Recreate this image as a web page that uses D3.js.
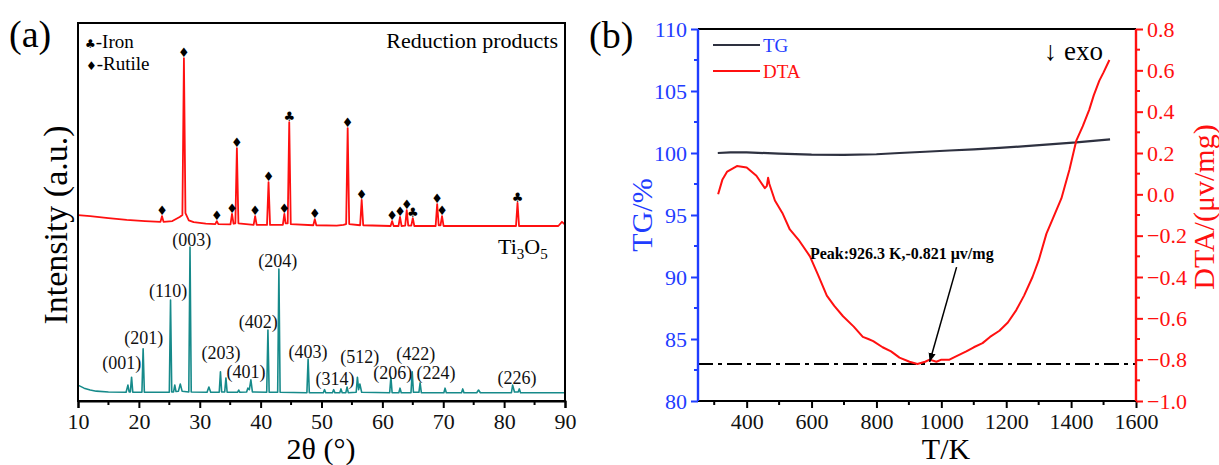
<!DOCTYPE html>
<html><head><meta charset="utf-8">
<script src="https://cdn.jsdelivr.net/npm/d3@7"></script>
<style>
body{margin:0;background:#fff}
text{font-family:"Liberation Serif","Times New Roman",serif}
</style>
</head><body>
<svg id="c" width="1219" height="465"></svg>
<script>
// ---------------- DATA ----------------
// Panel (a): XRD patterns, [2θ (deg), intensity (a.u.)]
const reductionProducts = [
 [10,492],[12,489],[15,484],[18,479],[21,476],[23.55,474],[23.8,489],[24.05,474],[25.5,476],[26.7,487],[27.15,492],[27.4,907],[27.65,497],[28.2,478],[29,473],
 [31,469],[32.55,468],[32.8,476],[33.05,468],[35.05,467],[35.3,495],[35.55,469],[35.85,470],[36.1,669],[36.35,470],[38.85,466],[39.1,489],[39.35,466],
 [41.05,466],[41.3,579],[41.55,466],[43.65,466],[43.9,495],[44.1,470],[44.45,470],[44.7,738],[44.95,468],[48.65,465],[48.9,481],[49.15,465],
 [52.5,464],[53.6,466],[54.05,468],[54.3,722],[54.55,468],[56.35,465],[56.6,532],[56.85,465],[61.35,463],[61.6,476],[61.85,463],[62.65,463],[62.9,487],[63.15,463],
 [63.75,464],[64.0,505],[64.25,464],[64.75,464],[65.0,484],[65.25,463],[68.75,463],[69.0,521],[69.25,465],[69.55,465],[69.8,489],[70.05,463],
 [75,463],[81.95,463],[82.2,524],[82.45,463],[86,463],[88.9,463],[89.5,474],[90,467]
];
const ti3o5 = [
 [10,42],[11,34],[12,29],[13,26],[15,24],[17.9,23],[18.2,42],[18.4,24],[18.6,24],[18.8,63],[19.0,23],[20.5,23],[20.7,138],[20.9,23],
 [25.0,23],[25.2,267],[25.4,24],[25.7,24],[25.9,42],[26.1,25],[26.5,26],[26.8,45],[27.1,26],[28.2,24],[28.4,407],[28.6,24],
 [31.2,23],[31.5,37],[31.8,23],[33.2,23],[33.4,77],[33.6,24],[34.1,24],[34.3,61],[34.5,23],[36.2,23],[36.4,29],[36.6,23],
 [37.7,24],[37.9,34],[38.15,30],[38.4,56],[38.65,24],[41.0,23],[41.2,188],[41.4,23],[42.8,23],[43.0,349],[43.2,23],
 [47.6,22],[47.8,111],[48.0,22],[50.3,22],[50.5,30],[50.7,22],[51.8,22],[52.0,30],[52.2,22],[53.0,22],[53.2,32],[53.4,22],
 [54.0,22],[54.2,37],[54.4,22],[55.7,23],[55.9,63],[56.1,30],[56.3,45],[56.6,23],[61.2,22],[61.4,63],[61.6,22],[62.7,22],[62.9,34],[63.1,22],
 [64.7,22],[64.9,77],[65.1,23],[66.0,23],[66.2,48],[66.4,22],[70.1,22],[70.3,34],[70.5,22],[73.0,22],[73.2,32],[73.4,22],
 [75.5,22],[75.8,29],[76.1,22],[81.2,22],[81.4,42],[81.7,24],[82.3,24],[82.5,32],[82.7,22],[90,22]
];
const rutilePeaks = [23.8,27.4,32.8,35.3,36.1,39.1,41.3,43.9,48.9,54.3,56.6,61.6,62.9,64.0,69.0,69.8];
const ironPeaks = [44.7,65.0,82.2];
const hklLabels = ["(001)","(201)","(110)","(003)","(203)","(401)","(402)","(204)","(403)","(314)","(512)","(206)","(422)","(224)","(226)"];
const hklX = [17.2,20.8,24.8,28.7,33.5,37.6,39.6,42.8,47.8,52.2,56.3,61.7,65.5,68.8,82.1];
const hklY = [100,167,291,426,127,77,209,370,130,58,116,74,124,74,61];
const xTicksA = [10,20,30,40,50,60,70,80,90];

// Panel (b): TG/DTA, [T (K), value]
const tg = [
 [311,100.0],[350,100.05],[400,100.05],[500,99.95],[600,99.87],[700,99.85],[800,99.9],[871,100.0],[950,100.1],
 [1025,100.2],[1100,100.3],[1179,100.42],[1260,100.55],[1333,100.7],[1416,100.85],[1520,101.1]
];
const dta = [
 [312,0.0],[325,0.07],[340,0.11],[370,0.137],[400,0.13],[430,0.09],[456,0.03],[462,0.04],[466,0.08],[470,0.05],[487,-0.03],
 [510,-0.09],[533,-0.17],[560,-0.22],[595,-0.30],[620,-0.39],[647,-0.49],[670,-0.54],[697,-0.59],[730,-0.64],[758,-0.69],
 [775,-0.70],[790,-0.71],[819,-0.74],[845,-0.76],[871,-0.79],[902,-0.81],[926.3,-0.821],[950,-0.81],[964,-0.80],[985,-0.81],
 [1000,-0.80],[1025,-0.80],[1050,-0.78],[1077,-0.76],[1100,-0.74],[1127,-0.72],[1150,-0.69],[1179,-0.66],[1205,-0.62],
 [1231,-0.56],[1255,-0.49],[1281,-0.40],[1300,-0.32],[1324,-0.19],[1343,-0.12],[1370,-0.02],[1395,0.12],[1416,0.26],
 [1436,0.33],[1456,0.41],[1470,0.48],[1487,0.55],[1500,0.59],[1518,0.65]
];
const tgTicks = [80,85,90,95,100,105,110];
const dtaTicks = [-1.0,-0.8,-0.6,-0.4,-0.2,0.0,0.2,0.4,0.6,0.8];
const tTicks = [400,600,800,1000,1200,1400,1600];
const peakT = 926.3, peakDTA = -0.821;
const annotText = "Peak:926.3 K,-0.821 μv/mg";
const annotFrom = [1047,-0.352], annotTo = [964,-0.811], annotAt = [595,-0.313];

// ---------------- DRAW ----------------
const SERIF = "'Liberation Serif','Times New Roman',serif";
const svg = d3.select("#c");
svg.append("rect").attr("width",1219).attr("height",465).attr("fill","#fff");
const RED="#ff1010", TEAL="#168a8a", BLUE="#1f3dff", DARK="#2e3140";

function styleTicks(g, color){
  g.attr("font-family", SERIF).attr("font-size", 22);
  g.selectAll("text").attr("fill", color).attr("font-family", SERIF).attr("font-size", 22);
}

// ===== Panel (a)
const xa = d3.scaleLinear().domain([10,90]).range([78,565]);
const ya = d3.scaleLinear().domain([0,1000]).range([401,23]);
const ga = svg.append("g");
const lineA = d3.line().x(d=>xa(d[0])).y(d=>ya(d[1]));
ga.append("path").datum(reductionProducts).attr("d",lineA).attr("fill","none").attr("stroke",RED).attr("stroke-width",1.8).attr("stroke-linejoin","round");
ga.append("path").datum(ti3o5).attr("d",lineA).attr("fill","none").attr("stroke",TEAL).attr("stroke-width",1.6).attr("stroke-linejoin","round");

function topAt(p){ return d3.max(reductionProducts.filter(d=>Math.abs(d[0]-p)<0.05), d=>d[1]); }
ga.selectAll("text.rut").data(rutilePeaks).join("text").attr("class","rut")
  .attr("x",d=>xa(d)).attr("y",d=>ya(topAt(d))-1).attr("text-anchor","middle")
  .style("font-family","DejaVu Sans").style("font-size","13px").text("♦");
ga.selectAll("text.iron").data(ironPeaks).join("text").attr("class","iron")
  .attr("x",d=>xa(d)).attr("y",d=>ya(topAt(d))-1).attr("text-anchor","middle")
  .style("font-family","DejaVu Sans").style("font-size","13px").text("♣");

ga.selectAll("text.hkl").data(hklLabels).join("text").attr("class","hkl")
  .attr("x",(d,i)=>xa(hklX[i])).attr("y",(d,i)=>ya(hklY[i])).attr("dy","0.32em")
  .attr("text-anchor","middle").style("font-size","18px").attr("fill","#111").text(d=>d);

// frame
ga.append("rect").attr("x",78).attr("y",23).attr("width",565-78).attr("height",401-23)
  .attr("fill","none").attr("stroke","#000").attr("stroke-width",2);
// x axis
const axA = d3.axisBottom(xa).tickValues(xTicksA).tickSize(7).tickPadding(5).tickFormat(d3.format("d"));
const gax = ga.append("g").attr("transform","translate(0,401)").call(axA);
gax.select(".domain").attr("stroke-width",2);
gax.selectAll(".tick line").attr("stroke-width",2);
styleTicks(gax, "#111");
ga.append("g").selectAll("line").data(d3.range(15,90,10)).join("line")
  .attr("x1",d=>xa(d)).attr("x2",d=>xa(d)).attr("y1",401).attr("y2",405).attr("stroke","#000").attr("stroke-width",2);

ga.append("text").attr("x",321).attr("y",459).attr("text-anchor","middle").style("font-size","30px").text("2θ (°)");
ga.append("text").attr("transform","translate(67,225) rotate(-90)").attr("text-anchor","middle").style("font-size","34px").text("Intensity (a.u.)");
ga.append("text").attr("x",9).attr("y",47).style("font-size","38px").text("(a)");
ga.append("text").attr("x",558).attr("y",48).attr("text-anchor","end").style("font-size","22px").text("Reduction products");
const ti = ga.append("text").attr("x",498).attr("y",254).style("font-size","22px");
ti.append("tspan").text("Ti"); ti.append("tspan").attr("dy",5).style("font-size","15px").text("3");
ti.append("tspan").attr("dy",-5).text("O"); ti.append("tspan").attr("dy",5).style("font-size","15px").text("5");
// legend (a)
const lg1 = ga.append("text").attr("x",85).attr("y",48).style("font-size","19px");
lg1.append("tspan").style("font-family","DejaVu Sans").style("font-size","12px").text("♣");
lg1.append("tspan").text("-Iron");
const lg2 = ga.append("text").attr("x",86).attr("y",70).style("font-size","19px");
lg2.append("tspan").style("font-family","DejaVu Sans").style("font-size","12px").text("♦");
lg2.append("tspan").text("-Rutile");

// ===== Panel (b)
const xb = d3.scaleLinear().domain([250,1600]).range([698,1136]);
const yTG = d3.scaleLinear().domain([80,110]).range([401,29]);
const yD = d3.scaleLinear().domain([-1,0.8]).range([401,29]);
const gb = svg.append("g");

// dash-dot line at peak value
gb.append("line").attr("x1",698).attr("x2",1136).attr("y1",yD(peakDTA)).attr("y2",yD(peakDTA))
  .attr("stroke","#000").attr("stroke-width",2).attr("stroke-dasharray","15,5,4,5");

gb.append("path").datum(tg).attr("d",d3.line().x(d=>xb(d[0])).y(d=>yTG(d[1])))
  .attr("fill","none").attr("stroke",DARK).attr("stroke-width",2.2);
gb.append("path").datum(dta).attr("d",d3.line().x(d=>xb(d[0])).y(d=>yD(d[1])))
  .attr("fill","none").attr("stroke",RED).attr("stroke-width",2).attr("stroke-linejoin","round");

// top frame
gb.append("line").attr("x1",698).attr("x2",1136).attr("y1",29).attr("y2",29).attr("stroke","#000").attr("stroke-width",2);
// bottom axis
const axB = d3.axisBottom(xb).tickValues(tTicks).tickSize(7).tickPadding(5).tickFormat(d3.format("d"));
const gbx = gb.append("g").attr("transform","translate(0,401)").call(axB);
gbx.select(".domain").attr("stroke-width",2).attr("d","M698,0H1136");
gbx.selectAll(".tick line").attr("stroke-width",2);
styleTicks(gbx, "#111");
gb.append("g").selectAll("line").data(d3.range(300,1600,200)).join("line")
  .attr("x1",d=>xb(d)).attr("x2",d=>xb(d)).attr("y1",401).attr("y2",405).attr("stroke","#000").attr("stroke-width",2);
// left axis
const axL = d3.axisLeft(yTG).tickValues(tgTicks).tickSize(7).tickPadding(4).tickFormat(d3.format("d"));
const gl = gb.append("g").attr("transform","translate(698,0)").call(axL);
gl.select(".domain").attr("stroke",BLUE).attr("stroke-width",2.4).attr("d","M0,401V29");
gl.selectAll(".tick line").attr("stroke",BLUE).attr("stroke-width",2);
styleTicks(gl, BLUE);
gb.append("g").selectAll("line").data(d3.range(82.5,110,5)).join("line")
  .attr("x1",694).attr("x2",698).attr("y1",d=>yTG(d)).attr("y2",d=>yTG(d)).attr("stroke",BLUE).attr("stroke-width",2);
// right axis
const axR = d3.axisRight(yD).tickValues(dtaTicks).tickSize(7).tickPadding(4).tickFormat(d3.format(".1f"));
const gr = gb.append("g").attr("transform","translate(1136,0)").call(axR);
gr.select(".domain").attr("stroke",RED).attr("stroke-width",2.4).attr("d","M0,401V29");
gr.selectAll(".tick line").attr("stroke",RED).attr("stroke-width",2);
styleTicks(gr, RED);
gb.append("g").selectAll("line").data(d3.range(-0.9,0.8,0.2)).join("line")
  .attr("x1",1136).attr("x2",1140).attr("y1",d=>yD(d)).attr("y2",d=>yD(d)).attr("stroke",RED).attr("stroke-width",2);

// titles
gb.append("text").attr("x",946).attr("y",459).attr("text-anchor","middle").style("font-size","30px").text("T/K");
gb.append("text").attr("transform","translate(652,215) rotate(-90)").attr("text-anchor","middle").attr("fill",BLUE).style("font-size","30px").text("TG/%");
gb.append("text").attr("transform","translate(1214,207) rotate(-90)").attr("text-anchor","middle").attr("fill",RED).style("font-size","30px").text("DTA/(μv/mg)");
gb.append("text").attr("x",589).attr("y",48).style("font-size","38px").text("(b)");
gb.append("text").attr("x",1103).attr("y",60).attr("text-anchor","end").style("font-size","27px").text("↓ exo");

// legend (b)
gb.append("line").attr("x1",713).attr("x2",760).attr("y1",45).attr("y2",45).attr("stroke",DARK).attr("stroke-width",2.2);
gb.append("text").attr("x",763).attr("y",52).attr("fill",BLUE).style("font-size","19px").text("TG");
gb.append("line").attr("x1",713).attr("x2",760).attr("y1",71).attr("y2",71).attr("stroke",RED).attr("stroke-width",2);
gb.append("text").attr("x",763).attr("y",78).attr("fill",RED).style("font-size","19px").text("DTA");

// annotation
svg.append("defs").append("marker").attr("id","ah").attr("viewBox","0 0 10 10").attr("refX",10).attr("refY",5)
  .attr("markerWidth",9).attr("markerHeight",9).attr("markerUnits","userSpaceOnUse").attr("orient","auto")
  .append("path").attr("d","M0,1L10,5L0,9Z").attr("fill","#000");
gb.append("text").attr("x",xb(annotAt[0])).attr("y",yD(annotAt[1])).style("font-size","16px").style("font-weight","bold").text(annotText);
gb.append("line").attr("x1",xb(annotFrom[0])).attr("y1",yD(annotFrom[1])).attr("x2",xb(annotTo[0])).attr("y2",yD(annotTo[1]))
  .attr("stroke","#000").attr("stroke-width",1.5).attr("marker-end","url(#ah)");
</script>
</body></html>
